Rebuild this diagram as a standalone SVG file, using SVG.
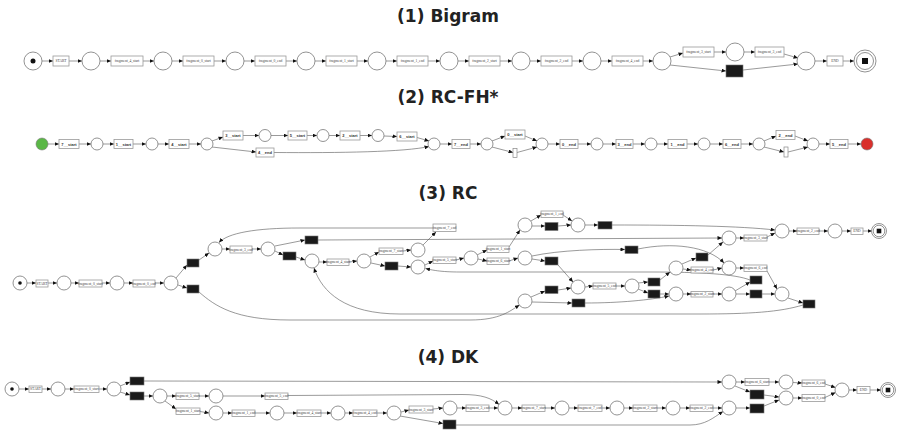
<svg xmlns="http://www.w3.org/2000/svg" width="897" height="431" viewBox="0 0 897 431">
<style>
.title{font-family:"DejaVu Sans",sans-serif;font-weight:bold;font-size:17px;fill:#222;text-anchor:middle}
.p{fill:#fff;stroke:#777;stroke-width:0.8}
.t{fill:#fff;stroke:#999;stroke-width:0.8}
.b{fill:#1a1a1a;stroke:#777;stroke-width:0.6}
.s{fill:#fff;stroke:#888;stroke-width:0.7}
.e{fill:none;stroke:#555;stroke-width:0.6;marker-end:url(#a)}
.l{font-family:"Liberation Serif",serif;font-size:3.6px;fill:#444;text-anchor:middle;dominant-baseline:central}
.l2{font-family:"Liberation Sans",sans-serif;font-size:4px;font-weight:bold;fill:#333;text-anchor:middle;dominant-baseline:central}
</style>
<defs>
<marker id="a" markerUnits="userSpaceOnUse" markerWidth="5" markerHeight="4" refX="4.5" refY="2" orient="auto"><path d="M0,0 L4.5,2 L0,4 z" fill="#111"/></marker>
</defs>

<text class="title" x="448" y="22">(1) Bigram</text>
<text class="title" x="448" y="103">(2) RC-FH*</text>
<text class="title" x="448" y="199">(3) RC</text>
<text class="title" x="448" y="363">(4) DK</text>

<!-- ===== (1) Bigram ===== -->
<g id="bigram">
<g id="b_edges">
<path class="e" d="M42,61 L53,61"/>
<path class="e" d="M69,61 L82,61"/>
<path class="e" d="M100,61 L111,61"/>
<path class="e" d="M143,61 L154,61"/>
<path class="e" d="M172,61 L183,61"/>
<path class="e" d="M214,61 L226,61"/>
<path class="e" d="M244,61 L255,61"/>
<path class="e" d="M286,61 L297,61"/>
<path class="e" d="M315,61 L326,61"/>
<path class="e" d="M357,61 L368,61"/>
<path class="e" d="M386,61 L397,61"/>
<path class="e" d="M428,61 L440,61"/>
<path class="e" d="M458,61 L469,61"/>
<path class="e" d="M500,61 L512,61"/>
<path class="e" d="M530,61 L541,61"/>
<path class="e" d="M572,61 L583,61"/>
<path class="e" d="M601,61 L612,61"/>
<path class="e" d="M643,61 L653,61"/>
<path class="e" d="M670,57 L683,53"/>
<path class="e" d="M714,52 L726,52"/>
<path class="e" d="M744,52 L755,52"/>
<path class="e" d="M784,54 L798,58"/>
<path class="e" d="M670,65 L726,71"/>
<path class="e" d="M743,70 L798,64"/>
<path class="e" d="M815,61 L827,61"/>
<path class="e" d="M843,61 L854,61"/>
</g>
<g id="b_start"><circle class="p" cx="33" cy="61" r="9"/><circle cx="33" cy="61" r="2.5" fill="#111"/></g>
<g id="b_t_start"><rect class="t" x="53" y="56" width="16" height="10"/><text class="l" x="61" y="61">START</text></g>
<g id="b_p1"><circle class="p" cx="91" cy="61" r="9"/></g>
<g id="b_t1"><rect class="t" x="111" y="56" width="32" height="10"/><text class="l" x="127" y="61">fragment_4_start</text></g>
<g id="b_p2"><circle class="p" cx="163" cy="61" r="9"/></g>
<g id="b_t2"><rect class="t" x="183" y="56" width="31" height="10"/><text class="l" x="198.5" y="61">fragment_0_start</text></g>
<g id="b_p3"><circle class="p" cx="235" cy="61" r="9"/></g>
<g id="b_t3"><rect class="t" x="255" y="56" width="31" height="10"/><text class="l" x="270.5" y="61">fragment_0_end</text></g>
<g id="b_p4"><circle class="p" cx="306" cy="61" r="9"/></g>
<g id="b_t4"><rect class="t" x="326" y="56" width="31" height="10"/><text class="l" x="341.5" y="61">fragment_1_start</text></g>
<g id="b_p5"><circle class="p" cx="377" cy="61" r="9"/></g>
<g id="b_t5"><rect class="t" x="397" y="56" width="31" height="10"/><text class="l" x="412.5" y="61">fragment_1_end</text></g>
<g id="b_p6"><circle class="p" cx="449" cy="61" r="9"/></g>
<g id="b_t6"><rect class="t" x="469" y="56" width="31" height="10"/><text class="l" x="484.5" y="61">fragment_2_start</text></g>
<g id="b_p7"><circle class="p" cx="521" cy="61" r="9"/></g>
<g id="b_t7"><rect class="t" x="541" y="56" width="31" height="10"/><text class="l" x="556.5" y="61">fragment_2_end</text></g>
<g id="b_p8"><circle class="p" cx="592" cy="61" r="9"/></g>
<g id="b_t8"><rect class="t" x="612" y="56" width="31" height="10"/><text class="l" x="627.5" y="61">fragment_4_end</text></g>
<g id="b_p9"><circle class="p" cx="662" cy="61" r="9"/></g>
<g id="b_t9"><rect class="t" x="683" y="47" width="31" height="10"/><text class="l" x="698.5" y="52">fragment_3_start</text></g>
<g id="b_p10"><circle class="p" cx="735" cy="52" r="9"/></g>
<g id="b_t10"><rect class="t" x="755" y="47" width="29" height="10"/><text class="l" x="769.5" y="52">fragment_3_end</text></g>
<g id="b_skip"><rect class="b" x="726" y="65" width="17" height="12"/></g>
<g id="b_p11"><circle class="p" cx="806" cy="61" r="9"/></g>
<g id="b_t_end"><rect class="t" x="827" y="56" width="16" height="10"/><text class="l" x="835" y="61">END</text></g>
<g id="b_end"><circle class="p" cx="865" cy="61" r="11" stroke-width="1.2"/><circle class="p" cx="865" cy="61" r="8.5"/><rect x="862" y="58" width="6" height="6" fill="#111"/></g>
</g>

<!-- ===== (2) RC-FH* ===== -->
<g id="rcfh">
<g id="f_edges">
<path class="e" d="M48,144 L59,144"/>
<path class="e" d="M79,144 L91,144"/>
<path class="e" d="M103,144 L114,144"/>
<path class="e" d="M133,144 L146,144"/>
<path class="e" d="M158,144 L169,144"/>
<path class="e" d="M189,144 L201,144"/>
<path class="e" d="M212,141 L223,137"/>
<path class="e" d="M243,135.5 L259,135.5"/>
<path class="e" d="M271,135.5 L288,135.5"/>
<path class="e" d="M307,135.5 L317,135.5"/>
<path class="e" d="M329,135.5 L340,135.5"/>
<path class="e" d="M360,135.5 L372,135.5"/>
<path class="e" d="M384,136 L397,136.5"/>
<path class="e" d="M417,137.5 L429,141"/>
<path class="e" d="M212,147 L256,152"/>
<path class="e" d="M274,152.5 C340,153 405,152 429,146.5"/>
<path class="e" d="M440,144 L452,144"/>
<path class="e" d="M470,144 L481,144"/>
<path class="e" d="M492,141 L505,136"/>
<path class="e" d="M492,147 L513,152.5"/>
<path class="e" d="M525,136 L537,141"/>
<path class="e" d="M517,152.5 L537,147"/>
<path class="e" d="M548,144 L560,144"/>
<path class="e" d="M578,144 L591,144"/>
<path class="e" d="M603,144 L616,144"/>
<path class="e" d="M633,144 L645,144"/>
<path class="e" d="M657,144 L668,144"/>
<path class="e" d="M687,144 L698,144"/>
<path class="e" d="M710,144 L723,144"/>
<path class="e" d="M741,144 L753,144"/>
<path class="e" d="M764,141 L776,136"/>
<path class="e" d="M764,147 L784,152"/>
<path class="e" d="M795,136 L808,141"/>
<path class="e" d="M788,152 L808,147"/>
<path class="e" d="M819,144 L830,144"/>
<path class="e" d="M848,144 L861,144"/>
</g>
<g id="f_source"><circle cx="42" cy="144" r="6" fill="#5ab746" stroke="#777" stroke-width="0.6"/></g>
<g id="f_t1"><rect class="t" x="59" y="139.5" width="20" height="9"/><text class="l2" x="69" y="144">7__start</text></g>
<g id="f_p1"><circle class="p" cx="97" cy="144" r="6"/></g>
<g id="f_t2"><rect class="t" x="114" y="139.5" width="19" height="9"/><text class="l2" x="123.5" y="144">1__start</text></g>
<g id="f_p2"><circle class="p" cx="152" cy="144" r="6"/></g>
<g id="f_t3"><rect class="t" x="169" y="139.5" width="20" height="9"/><text class="l2" x="179" y="144">4__start</text></g>
<g id="f_p3"><circle class="p" cx="207" cy="144" r="6"/></g>
<g id="f_t4"><rect class="t" x="223" y="131" width="20" height="9"/><text class="l2" x="233" y="135.5">3__start</text></g>
<g id="f_p4"><circle class="p" cx="265" cy="135.5" r="6"/></g>
<g id="f_t5"><rect class="t" x="288" y="131" width="19" height="9"/><text class="l2" x="297.5" y="135.5">5__start</text></g>
<g id="f_p5"><circle class="p" cx="323" cy="135.5" r="6"/></g>
<g id="f_t6"><rect class="t" x="340" y="131" width="20" height="9"/><text class="l2" x="350" y="135.5">2__start</text></g>
<g id="f_p6"><circle class="p" cx="378" cy="135.5" r="6"/></g>
<g id="f_t7"><rect class="t" x="397" y="132" width="20" height="9"/><text class="l2" x="407" y="136.5">6__start</text></g>
<g id="f_t8"><rect class="t" x="256" y="148" width="18" height="9"/><text class="l2" x="265" y="152.5">4__end</text></g>
<g id="f_p7"><circle class="p" cx="434" cy="144" r="6"/></g>
<g id="f_t9"><rect class="t" x="452" y="139.5" width="18" height="9"/><text class="l2" x="461" y="144">7__end</text></g>
<g id="f_p8"><circle class="p" cx="487" cy="144" r="6"/></g>
<g id="f_t10"><rect class="t" x="505" y="130" width="20" height="9"/><text class="l2" x="515" y="134.5">0__start</text></g>
<g id="f_s1"><rect class="s" x="513" y="148.5" width="4" height="9"/></g>
<g id="f_p9"><circle class="p" cx="542" cy="144" r="6"/></g>
<g id="f_t11"><rect class="t" x="560" y="139.5" width="18" height="9"/><text class="l2" x="569" y="144">0__end</text></g>
<g id="f_p10"><circle class="p" cx="597" cy="144" r="6"/></g>
<g id="f_t12"><rect class="t" x="616" y="139.5" width="17" height="9"/><text class="l2" x="624.5" y="144">3__end</text></g>
<g id="f_p11"><circle class="p" cx="651" cy="144" r="6"/></g>
<g id="f_t13"><rect class="t" x="668" y="139.5" width="19" height="9"/><text class="l2" x="677.5" y="144">1__end</text></g>
<g id="f_p12"><circle class="p" cx="704" cy="144" r="6"/></g>
<g id="f_t14"><rect class="t" x="723" y="139.5" width="18" height="9"/><text class="l2" x="732" y="144">6__end</text></g>
<g id="f_p13"><circle class="p" cx="759" cy="144" r="6"/></g>
<g id="f_t15"><rect class="t" x="776" y="130.5" width="19" height="9"/><text class="l2" x="785.5" y="135">2__end</text></g>
<g id="f_s2"><rect class="s" x="784" y="147" width="4" height="10"/></g>
<g id="f_p14"><circle class="p" cx="813" cy="144" r="6"/></g>
<g id="f_t16"><rect class="t" x="830" y="139.5" width="18" height="9"/><text class="l2" x="839" y="144">5__end</text></g>
<g id="f_sink"><circle cx="867" cy="144" r="6" fill="#d9302c" stroke="#777" stroke-width="0.6"/></g>
</g>

<!-- ===== (3) RC ===== -->
<g id="rc">
<g id="r_edges">
<path class="e" d="M27,283 L36,283"/>
<path class="e" d="M48,283 L57,283"/>
<path class="e" d="M71,283 L79,283"/>
<path class="e" d="M102,283 L110,283"/>
<path class="e" d="M124,283 L133,283"/>
<path class="e" d="M155,283 L164,283"/>
<path class="e" d="M176,278 L187,265"/>
<path class="e" d="M178,285 L187,288"/>
<path class="e" d="M199,260 L209,253"/>
<path class="e" d="M222,249 L230,249"/>
<path class="e" d="M252,249 L261,249"/>
<path class="e" d="M275,251 L283,255"/>
<path class="e" d="M275,246 L305,240"/>
<path class="e" d="M296,257 L305,260"/>
<path class="e" d="M318,240 L722,238"/>
<path class="e" d="M433,228 L300,228 C255,228 228,233 219,242.5"/>
<path class="e" d="M319,262 L327,262"/>
<path class="e" d="M349,262 L357,261"/>
<path class="e" d="M370,257 L379,252"/>
<path class="e" d="M403,251 L411,250"/>
<path class="e" d="M423,245 L436,232"/>
<path class="e" d="M371,263 L385,266"/>
<path class="e" d="M398,266 L411,267"/>
<path class="e" d="M425,265 L433,261"/>
<path class="e" d="M456,260 L464,258"/>
<path class="e" d="M477,255 L487,250"/>
<path class="e" d="M478,259 L487,261"/>
<path class="e" d="M509,247 L520,230"/>
<path class="e" d="M509,261 L518,258"/>
<path class="e" d="M531,221 L541,215"/>
<path class="e" d="M563,215 L572,221"/>
<path class="e" d="M532,226 L545,226"/>
<path class="e" d="M558,226 L571,225"/>
<path class="e" d="M585,225 L598,225"/>
<path class="e" d="M612,225 C680,225 740,226 775,230"/>
<path class="e" d="M532,259 L545,261"/>
<path class="e" d="M558,265 L573,282"/>
<path class="e" d="M532,256 C560,250 600,249 625,249.5"/>
<path class="e" d="M638,249 C672,242 708,246 724,263"/>
<path class="e" d="M585,287 L593,286"/>
<path class="e" d="M616,286 L625,286"/>
<path class="e" d="M638,283 L648,282"/>
<path class="e" d="M638,289 L648,293"/>
<path class="e" d="M660,280 L670,272"/>
<path class="e" d="M660,294 L669,294"/>
<path class="e" d="M682,264 L696,258"/>
<path class="e" d="M708,255 L723,242"/>
<path class="e" d="M683,269 L691,270"/>
<path class="e" d="M713,270 L722,268"/>
<path class="e" d="M736,238 L744,238"/>
<path class="e" d="M767,237 L775,233"/>
<path class="e" d="M736,268 L744,268"/>
<path class="e" d="M767,271 L777,289"/>
<path class="e" d="M683,294 L691,294"/>
<path class="e" d="M713,294 L722,294"/>
<path class="e" d="M735,291 L750,282"/>
<path class="e" d="M736,294 L750,294"/>
<path class="e" d="M762,294 L775,294"/>
<path class="e" d="M750,280 C735,274 700,272 650,272 L460,272 C440,272 432,270 425.5,268.5"/>
<path class="e" d="M788,298 L803,303"/>
<path class="e" d="M803,305 C780,312 750,314 700,314 L400,314 C345,314 322,292 314,268"/>
<path class="e" d="M199,292 C215,306 235,320 290,320 L470,320 C500,320 510,311 519.5,305"/>
<path class="e" d="M531,297 L545,291"/>
<path class="e" d="M558,290 L571,288"/>
<path class="e" d="M532,302 L572,303"/>
<path class="e" d="M585,303 C620,303 650,300 669,296"/>
<path class="e" d="M789,231 L797,231"/>
<path class="e" d="M819,231 L828,231"/>
<path class="e" d="M842,231 L851,231"/>
<path class="e" d="M863,231 L872,231"/>
</g>
<g id="r_start"><circle class="p" cx="20" cy="283" r="7"/><circle cx="20" cy="283" r="1.8" fill="#111"/></g>
<g id="r_t_start"><rect class="t" x="36" y="280" width="12" height="7"/><text class="l" x="42" y="283.5" font-size="2.8">START</text></g>
<g id="r_p1"><circle class="p" cx="64" cy="283" r="7"/></g>
<g id="r_t1"><rect class="t" x="79" y="280" width="23" height="7"/><text class="l" x="90.5" y="283.5" font-size="2.8">fragment_0_start</text></g>
<g id="r_p2"><circle class="p" cx="117" cy="283" r="7"/></g>
<g id="r_t2"><rect class="t" x="133" y="280" width="22" height="7"/><text class="l" x="144" y="283.5" font-size="2.8">fragment_0_end</text></g>
<g id="r_p3"><circle class="p" cx="171" cy="283" r="7"/></g>
<g id="r_b1"><rect class="b" x="187" y="259" width="12" height="8"/></g>
<g id="r_b2"><rect class="b" x="187" y="285" width="12" height="8"/></g>
<g id="r_p4"><circle class="p" cx="215" cy="249" r="7"/></g>
<g id="r_t3"><rect class="t" x="230" y="246" width="22" height="7"/><text class="l" x="241" y="249.5" font-size="2.8">fragment_3_end</text></g>
<g id="r_p5"><circle class="p" cx="268" cy="249" r="7"/></g>
<g id="r_b3"><rect class="b" x="283" y="252" width="13" height="8"/></g>
<g id="r_b4"><rect class="b" x="305" y="236" width="13" height="8"/></g>
<g id="r_p6"><circle class="p" cx="312" cy="261" r="7"/></g>
<g id="r_t4"><rect class="t" x="327" y="259" width="22" height="6.5"/><text class="l" x="338" y="262.3" font-size="2.8">fragment_4_start</text></g>
<g id="r_p7"><circle class="p" cx="364" cy="261" r="7"/></g>
<g id="r_t5"><rect class="t" x="379" y="248" width="24" height="6.5"/><text class="l" x="391" y="251.3" font-size="2.8">fragment_7_start</text></g>
<g id="r_p8"><circle class="p" cx="418" cy="250" r="7"/></g>
<g id="r_t6"><rect class="t" x="433" y="224" width="23" height="7.5"/><text class="l" x="444.5" y="227.8" font-size="2.8">fragment_7_end</text></g>
<g id="r_b5"><rect class="b" x="385" y="262" width="13" height="8"/></g>
<g id="r_p9"><circle class="p" cx="418" cy="267" r="7"/></g>
<g id="r_t7"><rect class="t" x="433" y="257" width="23" height="6.5"/><text class="l" x="444.5" y="260.3" font-size="2.8">fragment_5_start</text></g>
<g id="r_p10"><circle class="p" cx="471" cy="258" r="7"/></g>
<g id="r_t8"><rect class="t" x="487" y="246" width="22" height="6.5"/><text class="l" x="498" y="249.3" font-size="2.8">fragment_1_start</text></g>
<g id="r_t9"><rect class="t" x="487" y="258" width="22" height="6.5"/><text class="l" x="498" y="261.3" font-size="2.8">fragment_6_start</text></g>
<g id="r_p11"><circle class="p" cx="525" cy="225" r="7"/></g>
<g id="r_t10"><rect class="t" x="541" y="211" width="22" height="6.5"/><text class="l" x="552" y="214.3" font-size="2.8">fragment_1_end</text></g>
<g id="r_b6"><rect class="b" x="545" y="222.5" width="13" height="8"/></g>
<g id="r_p12"><circle class="p" cx="578" cy="225" r="7"/></g>
<g id="r_p13"><circle class="p" cx="525" cy="258" r="7"/></g>
<g id="r_b7"><rect class="b" x="545" y="257" width="13" height="8"/></g>
<g id="r_p14"><circle class="p" cx="578" cy="287" r="7"/></g>
<g id="r_b8"><rect class="b" x="545" y="286" width="13" height="7.5"/></g>
<g id="r_p15"><circle class="p" cx="525" cy="301" r="7"/></g>
<g id="r_b9"><rect class="b" x="572" y="299" width="13" height="8"/></g>
<g id="r_b10"><rect class="b" x="598" y="221.5" width="14" height="7.5"/></g>
<g id="r_p16"><circle class="p" cx="782" cy="231" r="7"/></g>
<g id="r_t11"><rect class="t" x="797" y="228" width="22" height="6.5"/><text class="l" x="808" y="231.3" font-size="2.8">fragment_2_end</text></g>
<g id="r_p17"><circle class="p" cx="835" cy="231" r="7"/></g>
<g id="r_t_end"><rect class="t" x="851" y="228" width="12" height="6.5"/><text class="l" x="857" y="231.3" font-size="2.8">END</text></g>
<g id="r_end"><circle class="p" cx="879" cy="231" r="7.5" stroke-width="1.2"/><circle class="p" cx="879" cy="231" r="5.8"/><rect x="876.7" y="228.7" width="4.6" height="4.6" fill="#111"/></g>
<g id="r_p18"><circle class="p" cx="729" cy="238" r="7"/></g>
<g id="r_t12"><rect class="t" x="744" y="235" width="23" height="6"/><text class="l" x="755.5" y="238" font-size="2.8">fragment_3_start</text></g>
<g id="r_b11"><rect class="b" x="625" y="246" width="13" height="7.5"/></g>
<g id="r_p19"><circle class="p" cx="729" cy="268" r="7"/></g>
<g id="r_t13"><rect class="t" x="744" y="265" width="23" height="6.5"/><text class="l" x="755.5" y="268.3" font-size="2.8">fragment_6_end</text></g>
<g id="r_b12"><rect class="b" x="696" y="253" width="12" height="8"/></g>
<g id="r_p20"><circle class="p" cx="676" cy="268" r="7"/></g>
<g id="r_t14"><rect class="t" x="691" y="267" width="22" height="6"/><text class="l" x="702" y="270" font-size="2.8">fragment_4_end</text></g>
<g id="r_t15"><rect class="t" x="593" y="283" width="23" height="6"/><text class="l" x="604.5" y="286" font-size="2.8">fragment_5_end</text></g>
<g id="r_p21"><circle class="p" cx="632" cy="286" r="7"/></g>
<g id="r_b13"><rect class="b" x="648" y="278" width="12" height="8"/></g>
<g id="r_b14"><rect class="b" x="648" y="290" width="12" height="8"/></g>
<g id="r_p22"><circle class="p" cx="676" cy="294" r="7"/></g>
<g id="r_t16"><rect class="t" x="691" y="291.5" width="22" height="5.5"/><text class="l" x="702" y="294.2" font-size="2.8">fragment_2_start</text></g>
<g id="r_p23"><circle class="p" cx="729" cy="294" r="7"/></g>
<g id="r_b15"><rect class="b" x="750" y="276" width="12" height="8"/></g>
<g id="r_b16"><rect class="b" x="750" y="290" width="12" height="8"/></g>
<g id="r_p24"><circle class="p" cx="782" cy="294" r="7"/></g>
<g id="r_b17"><rect class="b" x="803" y="300" width="12" height="8"/></g>
</g>

<!-- ===== (4) DK ===== -->
<g id="dk">
<g id="d_edges">
<path class="e" d="M19,389 L29,389"/>
<path class="e" d="M42,389 L51,389"/>
<path class="e" d="M65,389 L74,389"/>
<path class="e" d="M99,389 L107,389"/>
<path class="e" d="M120,386 L130,382"/>
<path class="e" d="M120,392 L130,395"/>
<path class="e" d="M144,381 L722,382"/>
<path class="e" d="M144,396 L153,396"/>
<path class="e" d="M167,396 L176,396"/>
<path class="e" d="M199,396 L209,396"/>
<path class="e" d="M223,396 L265,396"/>
<path class="e" d="M288,395.5 L462,394.5 C482,394.5 491,398 499,404.5"/>
<path class="e" d="M165,401 L176,409"/>
<path class="e" d="M200,411.5 L209,413"/>
<path class="e" d="M223,413 L232,413"/>
<path class="e" d="M255,413 L270,413"/>
<path class="e" d="M284,413 L297,413"/>
<path class="e" d="M321,413 L331,413"/>
<path class="e" d="M345,413 L353,413"/>
<path class="e" d="M377,413 L387,413"/>
<path class="e" d="M401,412 L409,410"/>
<path class="e" d="M433,409 L443,408"/>
<path class="e" d="M457,408 L466,408"/>
<path class="e" d="M489,408 L498,408"/>
<path class="e" d="M512,408 L522,408"/>
<path class="e" d="M545,408 L555,408"/>
<path class="e" d="M569,408 L578,408"/>
<path class="e" d="M602,408 L610,408"/>
<path class="e" d="M624,408 L633,408"/>
<path class="e" d="M657,408 L666,408"/>
<path class="e" d="M680,408 L690,408"/>
<path class="e" d="M713,408 L722,408"/>
<path class="e" d="M400,416 L443,423.5"/>
<path class="e" d="M456,425 L690,425 C705,425 713,418 723,411.5"/>
<path class="e" d="M736,408 L750,408"/>
<path class="e" d="M764,406 L779,400"/>
<path class="e" d="M736,382 L745,382"/>
<path class="e" d="M769,382 L779,382"/>
<path class="e" d="M793,382.5 L802,383"/>
<path class="e" d="M825,384 L835.5,387.5"/>
<path class="e" d="M735,386 L750,392"/>
<path class="e" d="M764,395 L779,397"/>
<path class="e" d="M793,398 L802,398"/>
<path class="e" d="M825,397.5 L835.5,392.5"/>
<path class="e" d="M849,390 L857,390"/>
<path class="e" d="M870,390 L881,390"/>
</g>
<g id="d_start"><circle class="p" cx="12" cy="389" r="7"/><circle cx="12" cy="389" r="1.8" fill="#111"/></g>
<g id="d_t_start"><rect class="t" x="29" y="386" width="13" height="6.5"/><text class="l" x="35.5" y="389.3" font-size="2.8">START</text></g>
<g id="d_p1"><circle class="p" cx="58" cy="389" r="7"/></g>
<g id="d_t1"><rect class="t" x="74" y="386" width="25" height="6.5"/><text class="l" x="86.5" y="389.3" font-size="2.8">fragment_0_start</text></g>
<g id="d_p2"><circle class="p" cx="114" cy="389" r="7"/></g>
<g id="d_b1"><rect class="b" x="130" y="377" width="14" height="8"/></g>
<g id="d_b2"><rect class="b" x="130" y="392" width="14" height="8"/></g>
<g id="d_p3"><circle class="p" cx="160" cy="396" r="7"/></g>
<g id="d_t2"><rect class="t" x="176" y="393" width="23" height="6.5"/><text class="l" x="187.5" y="396.3" font-size="2.8">fragment_5_start</text></g>
<g id="d_p4"><circle class="p" cx="216" cy="396" r="7"/></g>
<g id="d_t3"><rect class="t" x="265" y="393" width="23" height="6.5"/><text class="l" x="276.5" y="396.3" font-size="2.8">fragment_5_end</text></g>
<g id="d_t4"><rect class="t" x="176" y="408" width="24" height="6.5"/><text class="l" x="188" y="411.3" font-size="2.8">fragment_1_start</text></g>
<g id="d_p5"><circle class="p" cx="216" cy="413" r="7"/></g>
<g id="d_t5"><rect class="t" x="232" y="410" width="23" height="6.5"/><text class="l" x="243.5" y="413.3" font-size="2.8">fragment_1_end</text></g>
<g id="d_p6"><circle class="p" cx="277" cy="413" r="7"/></g>
<g id="d_t6"><rect class="t" x="297" y="410" width="24" height="6.5"/><text class="l" x="309" y="413.3" font-size="2.8">fragment_4_start</text></g>
<g id="d_p7"><circle class="p" cx="338" cy="413" r="7"/></g>
<g id="d_t7"><rect class="t" x="353" y="410" width="24" height="6.5"/><text class="l" x="365" y="413.3" font-size="2.8">fragment_4_end</text></g>
<g id="d_p8"><circle class="p" cx="394" cy="413" r="7"/></g>
<g id="d_t8"><rect class="t" x="409" y="406" width="24" height="7"/><text class="l" x="421" y="409.5" font-size="2.8">fragment_3_start</text></g>
<g id="d_b4"><rect class="b" x="443" y="420" width="13" height="9"/></g>
<g id="d_p9"><circle class="p" cx="450" cy="408" r="7"/></g>
<g id="d_t9"><rect class="t" x="466" y="405" width="23" height="6.5"/><text class="l" x="477.5" y="408.3" font-size="2.8">fragment_3_end</text></g>
<g id="d_p10"><circle class="p" cx="505" cy="408" r="7"/></g>
<g id="d_t10"><rect class="t" x="522" y="405" width="23" height="6.5"/><text class="l" x="533.5" y="408.3" font-size="2.8">fragment_7_start</text></g>
<g id="d_p11"><circle class="p" cx="562" cy="408" r="7"/></g>
<g id="d_t11"><rect class="t" x="578" y="405" width="24" height="6.5"/><text class="l" x="590" y="408.3" font-size="2.8">fragment_7_end</text></g>
<g id="d_p12"><circle class="p" cx="617" cy="408" r="7"/></g>
<g id="d_t12"><rect class="t" x="633" y="405" width="24" height="6.5"/><text class="l" x="645" y="408.3" font-size="2.8">fragment_2_start</text></g>
<g id="d_p13"><circle class="p" cx="673" cy="408" r="7"/></g>
<g id="d_t13"><rect class="t" x="690" y="405" width="23" height="6.5"/><text class="l" x="701.5" y="408.3" font-size="2.8">fragment_2_end</text></g>
<g id="d_p14"><circle class="p" cx="729" cy="408" r="7"/></g>
<g id="d_b3"><rect class="b" x="750" y="404" width="14" height="9"/></g>
<g id="d_p15"><circle class="p" cx="729" cy="382" r="7"/></g>
<g id="d_t14"><rect class="t" x="745" y="378.5" width="24" height="7"/><text class="l" x="757" y="382" font-size="2.8">fragment_6_start</text></g>
<g id="d_p16"><circle class="p" cx="786" cy="382" r="7"/></g>
<g id="d_t15"><rect class="t" x="802" y="380" width="23" height="6.5"/><text class="l" x="813.5" y="383.3" font-size="2.8">fragment_6_end</text></g>
<g id="d_b5"><rect class="b" x="750" y="390" width="14" height="9"/></g>
<g id="d_p17"><circle class="p" cx="786" cy="398" r="7"/></g>
<g id="d_t16"><rect class="t" x="802" y="394.5" width="23" height="7"/><text class="l" x="813.5" y="398" font-size="2.8">fragment_0_end</text></g>
<g id="d_p18"><circle class="p" cx="842" cy="390" r="7"/></g>
<g id="d_t_end"><rect class="t" x="857" y="386.5" width="13" height="7"/><text class="l" x="863.5" y="390" font-size="2.8">END</text></g>
<g id="d_end"><circle class="p" cx="888" cy="390" r="7.5" stroke-width="1.2"/><circle class="p" cx="888" cy="390" r="5.8"/><rect x="885.7" y="387.7" width="4.6" height="4.6" fill="#111"/></g>
</g>
</svg>
